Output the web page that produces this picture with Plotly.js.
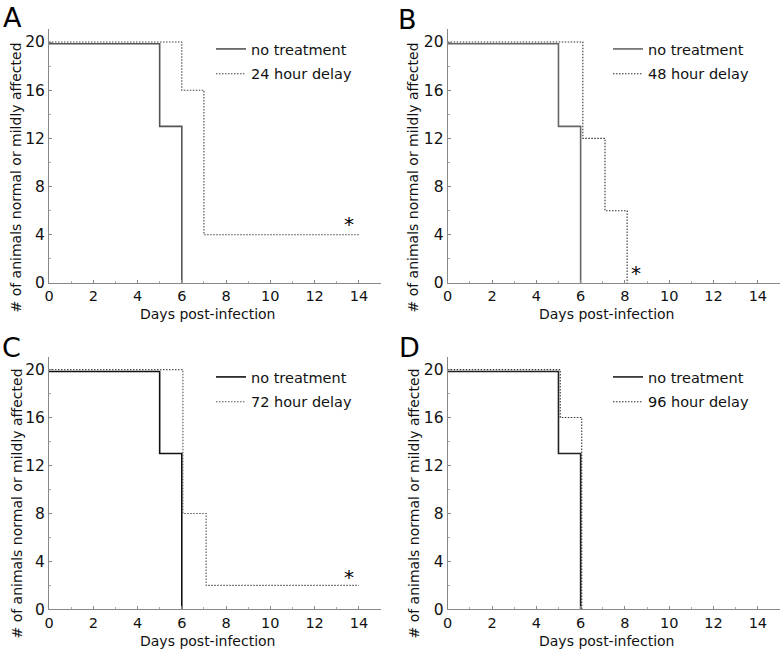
<!DOCTYPE html>
<html>
<head>
<meta charset="utf-8">
<script src="https://cdn.plot.ly/plotly-3.0.1.min.js"></script>
<style>html,body{margin:0;padding:0;background:#fff;}#chart{width:780px;height:650px;}</style>
</head>
<body>
<div id="chart"></div>
<script>
// ---- data ----
const panelLetters = ['A', 'B', 'C', 'D'];
const delayNames = ['24 hour delay', '48 hour delay', '72 hour delay', '96 hour delay'];
const controlName = 'no treatment';

const daysNoTreatment = [0, 5, 6];
const countsNoTreatment = [19.85, 13, 0];

const days24h = [0, 6, 7, 14];
const counts24h = [20, 16, 4, 4];

const days48h = [0, 6.1, 7.1, 8.1];
const counts48h = [20, 12, 6, 0];

const days72h = [0, 6.05, 7.1, 14];
const counts72h = [20, 8, 2, 2];

const days96h = [0, 5.08, 6.05];
const counts96h = [20, 16, 0];

const xTickVals = [0, 2, 4, 6, 8, 10, 12, 14];
const yTickVals = [0, 4, 8, 12, 16, 20];

// significance markers: panel index, day, count
const starPanels = [0, 1, 2];
const starDays = [13.55, 8.5, 13.55];
const starCounts = [4.9, 0.8, 2.7];

// ---- build ----
const delayDays = [days24h, days48h, days72h, days96h];
const delayCounts = [counts24h, counts48h, counts72h, counts96h];
const solidColors = ['#555', '#666', '#111', '#222'];
const dotColors = ['#444', '#333', '#555', '#333'];

const W = 780, H = 650;
const xDomains = [[49 / W, 381 / W], [447.7 / W, 1], [49 / W, 381 / W], [447.7 / W, 1]];
const yDomains = [[1 - 283 / H, 1 - 29 / H], [1 - 283 / H, 1 - 29 / H],
                  [1 - 609.3 / H, 1 - 356.7 / H], [1 - 609.3 / H, 1 - 356.7 / H]];
const font = 'DejaVu Sans, Verdana, sans-serif';

const traces = [];
const layout = {
  width: W, height: H,
  margin: {l: 0, r: 0, t: 0, b: 0},
  paper_bgcolor: '#fff', plot_bgcolor: '#fff',
  font: {family: font, size: 14, color: '#111'},
  showlegend: true,
  annotations: []
};

const legendPos = [[211, 33], [608, 33], [211, 361], [608, 361]];
const yTitlePos = [[16, 177.5], [413, 177.5], [16, 503.5], [413, 503.5]];
const xTitlePos = [[208, 314], [606.7, 314], [208, 640.5], [606.7, 640.5]];
const letterPos = [[12, 18], [407.5, 19], [11, 347.5], [409, 347]];

for (let i = 0; i < 4; i++) {
  const sfx = i === 0 ? '' : String(i + 1);
  const xa = 'x' + sfx, ya = 'y' + sfx;
  const lg = 'legend' + sfx;
  traces.push({
    type: 'scatter', mode: 'lines', x: daysNoTreatment, y: countsNoTreatment,
    xaxis: xa, yaxis: ya, name: controlName, legend: lg, legendgroup: 'c' + i,
    line: {shape: 'hv', color: solidColors[i], width: 1.6}, hoverinfo: 'skip'
  });
  traces.push({
    type: 'scatter', mode: 'lines', x: delayDays[i], y: delayCounts[i],
    xaxis: xa, yaxis: ya, name: delayNames[i], legend: lg, legendgroup: 'd' + i,
    line: {shape: 'hv', color: dotColors[i], width: 1.1, dash: '1.5px,1.5px'}, hoverinfo: 'skip'
  });
  layout['xaxis' + sfx] = {
    domain: xDomains[i], anchor: ya, range: [0, 15], autorange: false,
    tickvals: xTickVals, ticks: 'inside', ticklen: 3, tickcolor: '#888',
    minor: {dtick: 1, tick0: 0, ticks: 'inside', ticklen: 2, tickcolor: '#aaa'},
    showline: true, linecolor: '#888', linewidth: 1, showgrid: false, zeroline: false,
    tickfont: {family: font, size: 14.5, color: '#111'}, fixedrange: true
  };
  layout['yaxis' + sfx] = {
    domain: yDomains[i], anchor: xa, range: [0, 21.08], autorange: false,
    tickvals: yTickVals, ticks: 'inside', ticklen: 3, tickcolor: '#888',
    minor: {dtick: 2, tick0: 0, ticks: 'inside', ticklen: 2, tickcolor: '#aaa'},
    showline: true, linecolor: '#888', linewidth: 1, showgrid: false, zeroline: false,
    tickfont: {family: font, size: 15.5, color: '#111'}, fixedrange: true
  };
  layout[lg] = {
    x: legendPos[i][0] / W, y: 1 - legendPos[i][1] / H, xanchor: 'left', yanchor: 'top',
    bgcolor: 'rgba(0,0,0,0)', borderwidth: 0, tracegroupgap: 3, traceorder: 'grouped',
    font: {family: font, size: 14.5, color: '#111'}
  };
  layout.annotations.push({
    xref: 'paper', yref: 'paper', x: yTitlePos[i][0] / W, y: 1 - yTitlePos[i][1] / H,
    text: '# of animals normal or mildly affected', textangle: -90, showarrow: false,
    xanchor: 'center', yanchor: 'middle', font: {family: font, size: 14, color: '#111'}
  });
  layout.annotations.push({
    xref: 'paper', yref: 'paper', x: xTitlePos[i][0] / W, y: 1 - xTitlePos[i][1] / H,
    text: 'Days post-infection', showarrow: false,
    xanchor: 'center', yanchor: 'middle', font: {family: font, size: 14, color: '#111'}
  });
  layout.annotations.push({
    xref: 'paper', yref: 'paper', x: letterPos[i][0] / W, y: 1 - letterPos[i][1] / H,
    text: panelLetters[i], showarrow: false,
    xanchor: 'center', yanchor: 'middle', font: {family: font, size: 27, color: '#000'}
  });
}

for (let k = 0; k < starPanels.length; k++) {
  const p = starPanels[k];
  const sfx = p === 0 ? '' : String(p + 1);
  layout.annotations.push({
    xref: 'x' + sfx, yref: 'y' + sfx, x: starDays[k], y: starCounts[k],
    text: '*', showarrow: false, xanchor: 'center', yanchor: 'middle',
    font: {family: font, size: 20, color: '#000'}
  });
}

Plotly.newPlot('chart', traces, layout, {staticPlot: true, displayModeBar: false});
</script>
</body>
</html>
